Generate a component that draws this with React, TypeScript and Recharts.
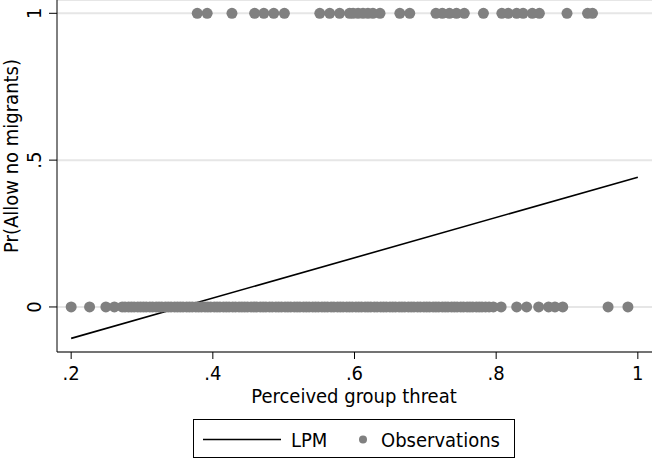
import React from "react";
import {
  ComposedChart,
  Line,
  Scatter,
  XAxis,
  YAxis,
  CartesianGrid,
} from "recharts";

// observed threat scores for respondents who answered 1 / 0
const threatYes = [
  0.378, 0.392, 0.427, 0.459, 0.472, 0.486, 0.501, 0.551, 0.565, 0.579,
  0.593, 0.598, 0.605, 0.612, 0.619, 0.626, 0.636, 0.664, 0.678, 0.715,
  0.724, 0.734, 0.744, 0.755, 0.782, 0.808, 0.817, 0.829, 0.838, 0.851,
  0.861, 0.9, 0.929, 0.936,
];
const threatNo = [
  0.2, 0.226, 0.249, 0.261, 0.272, 0.276, 0.281, 0.285, 0.289, 0.294,
  0.298, 0.302, 0.306, 0.311, 0.315, 0.32, 0.324, 0.328, 0.333, 0.337,
  0.341, 0.346, 0.35, 0.354, 0.358, 0.363, 0.367, 0.371, 0.376, 0.38,
  0.384, 0.389, 0.393, 0.397, 0.402, 0.406, 0.41, 0.415, 0.419, 0.423,
  0.428, 0.432, 0.437, 0.441, 0.445, 0.449, 0.454, 0.458, 0.462, 0.467,
  0.471, 0.475, 0.48, 0.484, 0.489, 0.493, 0.497, 0.502, 0.506, 0.51,
  0.515, 0.519, 0.523, 0.528, 0.532, 0.536, 0.541, 0.545, 0.549, 0.554,
  0.558, 0.562, 0.567, 0.571, 0.576, 0.58, 0.584, 0.589, 0.593, 0.597,
  0.602, 0.606, 0.61, 0.615, 0.619, 0.623, 0.628, 0.632, 0.637, 0.641,
  0.645, 0.65, 0.654, 0.658, 0.663, 0.667, 0.671, 0.676, 0.68, 0.684,
  0.689, 0.693, 0.698, 0.702, 0.706, 0.711, 0.715, 0.719, 0.724, 0.728,
  0.732, 0.737, 0.741, 0.745, 0.75, 0.754, 0.759, 0.763, 0.767, 0.772,
  0.776, 0.78, 0.785, 0.79, 0.796, 0.807, 0.829, 0.843, 0.86, 0.874,
  0.883, 0.894, 0.958, 0.986,
];
// fitted linear probability model, endpoints
const lpmX = [0.2, 1];
const lpmY = [-0.107, 0.442];

const xTicks = [0.2, 0.4, 0.6, 0.8, 1];
const yTicks = [0, 0.5, 1];

const observations = [
  ...threatYes.map((x) => ({ x, y: 1 })),
  ...threatNo.map((x) => ({ x, y: 0 })),
];
const lpm = lpmX.map((x, i) => ({ x, y: lpmY[i] }));

const font = "'DejaVu Sans Condensed', 'DejaVu Sans', sans-serif";
const dotColor = "#808080";

const fmt = (v: number) => (v === 0 || v === 1 ? String(v) : String(v).replace(/^0/, ""));

const XTick = (props: any) => {
  const { x, payload } = props;
  return (
    <text x={x} y={373} textAnchor="middle" dominantBaseline="central" fontFamily={font} fontSize={20} fill="#000">
      {fmt(payload.value)}
    </text>
  );
};

const YTick = (props: any) => {
  const { y, payload } = props;
  return (
    <text
      x={34}
      y={y}
      transform={`rotate(-90, 34, ${y})`}
      textAnchor="middle"
      dominantBaseline="central"
      fontFamily={font}
      fontSize={20}
      fill="#000"
    >
      {fmt(payload.value)}
    </text>
  );
};

const YTitle = () => (
  <text
    x={11}
    y={156}
    transform="rotate(-90, 11, 156)"
    textAnchor="middle"
    dominantBaseline="central"
    fontFamily={font}
    fontSize={20}
    fill="#000"
  >
    Pr(Allow no migrants)
  </text>
);

const XTitle = () => (
  <text x={354} y={396} textAnchor="middle" dominantBaseline="central" fontFamily={font} fontSize={20} fill="#000">
    Perceived group threat
  </text>
);

const Dot = (props: any) => <circle cx={props.cx} cy={props.cy} r={5.5} fill={dotColor} />;

export default function App() {
  return (
    <div style={{ position: "absolute", left: 0, top: 0, width: 652, height: 459, background: "#fff" }}>
      <ComposedChart width={652} height={459} margin={{ top: 0, right: 0, bottom: 0, left: 0 }}>
        <CartesianGrid vertical={false} stroke="#e6e6e6" strokeWidth={2} />
        <XAxis
          type="number"
          dataKey="x"
          domain={[0.18, 1.02]}
          ticks={xTicks}
          allowDataOverflow
          height={107}
          stroke="#000"
          tickSize={7}
          tick={<XTick />}
          label={<XTitle />}
        />
        <YAxis
          type="number"
          dataKey="y"
          domain={[-0.1534, 1.0453]}
          ticks={yTicks}
          allowDataOverflow
          width={57}
          stroke="#000"
          tickSize={8}
          tick={<YTick />}
          label={<YTitle />}
        />
        <Line
          data={lpm}
          dataKey="y"
          stroke="#000"
          strokeWidth={1.6}
          dot={false}
          isAnimationActive={false}
        />
        <Scatter data={observations} dataKey="y" shape={<Dot />} isAnimationActive={false} />
      </ComposedChart>
      <div
        style={{
          position: "absolute",
          left: 193,
          top: 419,
          width: 320,
          height: 37,
          border: "1px solid #000",
        }}
      >
        <svg width={320} height={37} style={{ position: "absolute", left: 0, top: 0 }}>
          <line x1={9} x2={87} y1={19.5} y2={19.5} stroke="#000" strokeWidth={1.6} />
          <circle cx={169} cy={19.5} r={4} fill={dotColor} />
          <text x={97} y={19.5} dominantBaseline="central" fontFamily={font} fontSize={20}>LPM</text>
          <text x={187} y={19.5} dominantBaseline="central" fontFamily={font} fontSize={20}>Observations</text>
        </svg>
      </div>
    </div>
  );
}
